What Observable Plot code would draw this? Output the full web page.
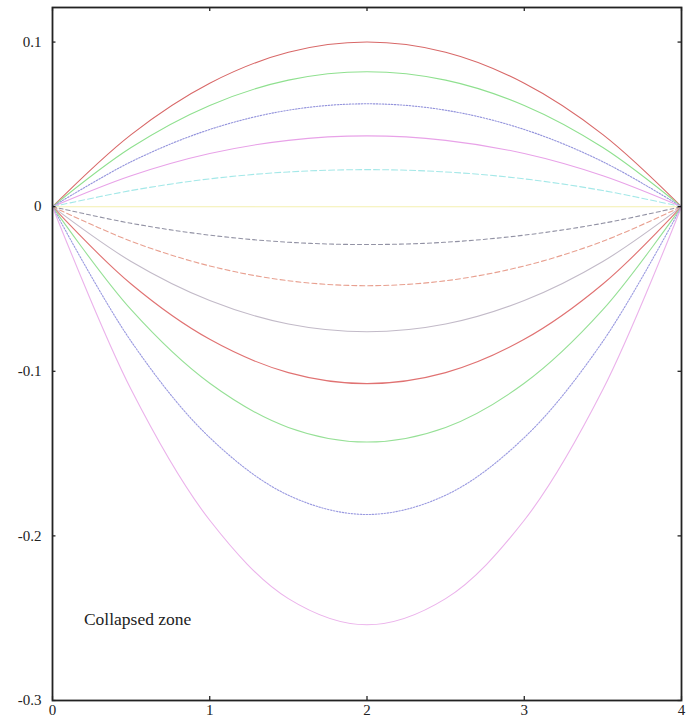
<!DOCTYPE html>
<html>
<head>
<meta charset="utf-8">
<script src="https://cdn.jsdelivr.net/npm/d3@7"></script>
<script src="https://cdn.jsdelivr.net/npm/@observablehq/plot@0.6"></script>
<style>
  html, body { margin: 0; padding: 0; background: #fff; }
  #chart svg { display: block; }
  #chart svg text { font-family: "Times New Roman", "Liberation Serif", "DejaVu Serif", serif !important; }
</style>
</head>
<body>
<div id="chart"></div>
<script>
// x positions at which the curves were read
const xs = [0, 0.5, 1, 1.5, 2, 2.5, 3, 3.5, 4];

// series values (13 curves, top to bottom)
const s1  = [0, 0.0438, 0.0750, 0.0938, 0.1000, 0.0938, 0.0750, 0.0438, 0];
const s2  = [0, 0.0359, 0.0615, 0.0769, 0.0820, 0.0769, 0.0615, 0.0359, 0];
const s3  = [0, 0.0273, 0.0469, 0.0586, 0.0625, 0.0586, 0.0469, 0.0273, 0];
const s4  = [0, 0.0188, 0.0323, 0.0403, 0.0430, 0.0403, 0.0323, 0.0188, 0];
const s5  = [0, 0.0098, 0.0169, 0.0211, 0.0225, 0.0211, 0.0169, 0.0098, 0];
const s6  = [0, 0, 0, 0, 0, 0, 0, 0, 0];
const s7  = [0, -0.0101, -0.0173, -0.0216, -0.0230, -0.0216, -0.0173, -0.0101, 0];
const s8  = [0, -0.0210, -0.0360, -0.0450, -0.0480, -0.0450, -0.0360, -0.0210, 0];
const s9  = [0, -0.0333, -0.0570, -0.0713, -0.0760, -0.0713, -0.0570, -0.0333, 0];
const s10 = [0, -0.0470, -0.0806, -0.1008, -0.1075, -0.1008, -0.0806, -0.0470, 0];
const s11 = [0, -0.0626, -0.1073, -0.1341, -0.1430, -0.1341, -0.1073, -0.0626, 0];
const s12 = [0, -0.0818, -0.1403, -0.1753, -0.1870, -0.1753, -0.1403, -0.0818, 0];
const s13 = [0, -0.1111, -0.1905, -0.2381, -0.2540, -0.2381, -0.1905, -0.1111, 0];

const seriesValues = [s1, s2, s3, s4, s5, s6, s7, s8, s9, s10, s11, s12, s13];
const seriesColors = ["#d86868", "#8fe08f", "#9494dc", "#e8a2e8", "#a4e8e8", "#f4f0b0",
                      "#9292a4", "#e8a090", "#c2bac8", "#e07272", "#96e096", "#9a9ae0", "#ebb2eb"];
const seriesDash = [null, null, "1.5,1.5", null, "6,3", null,
                    "4,3", "5,3", null, null, null, "1.5,1.5", null];

const xTicks = [0, 1, 2, 3, 4];
const xTickLabels = ["0", "1", "2", "3", "4"];
const yTicks = [-0.3, -0.2, -0.1, 0, 0.1];
const yTickLabels = ["-0.3", "-0.2", "-0.1", "0", "0.1"];

const annotation = [{x: 0.2, y: -0.251, label: "Collapsed zone"}];

const font = "Times New Roman, Liberation Serif, DejaVu Serif, serif";

const lineMarks = seriesValues.map((vals, i) =>
  Plot.line(xs.map((x, j) => ({x, y: vals[j]})), {
    x: "x", y: "y",
    stroke: seriesColors[i],
    strokeWidth: 1.1,
    strokeDasharray: seriesDash[i] ?? undefined,
    curve: "catmull-rom"
  })
);

const chart = Plot.plot({
  width: 694,
  height: 722,
  marginLeft: 52,
  marginRight: 13,
  marginTop: 7,
  marginBottom: 22,
  style: {fontFamily: font, fontSize: "13px", background: "#fff", color: "#222"},
  x: {domain: [0, 4]},
  y: {domain: [-0.3, 0.121]},
  marks: [
    ...lineMarks,
    // inward tick marks on all four sides
    Plot.ruleY(yTicks, {y: d => d, x1: 0, x2: 0.022, stroke: "#111", strokeWidth: 1.2}),
    Plot.ruleY(yTicks, {y: d => d, x1: 3.978, x2: 4, stroke: "#111", strokeWidth: 1.2}),
    Plot.ruleX(xTicks, {x: d => d, y1: -0.3, y2: -0.2975, stroke: "#111", strokeWidth: 1.2}),
    Plot.ruleX(xTicks, {x: d => d, y1: 0.121, y2: 0.1185, stroke: "#111", strokeWidth: 1.2}),
    Plot.frame({stroke: "#222", strokeWidth: 1.8}),
    Plot.axisY({
      ticks: yTicks, tickSize: 0, tickPadding: 11,
      tickFormat: d => yTickLabels[yTicks.indexOf(d)],
      label: null, fontSize: 15, fill: "#222"
    }),
    Plot.axisX({
      ticks: xTicks, tickSize: 0, tickPadding: 4,
      tickFormat: d => xTickLabels[xTicks.indexOf(d)],
      label: null, fontSize: 15, fill: "#222"
    }),
    Plot.text(annotation, {
      x: "x", y: "y", text: "label",
      textAnchor: "start", fontSize: 17.5, fill: "#222"
    })
  ]
});

document.getElementById("chart").appendChild(chart);
</script>
</body>
</html>
